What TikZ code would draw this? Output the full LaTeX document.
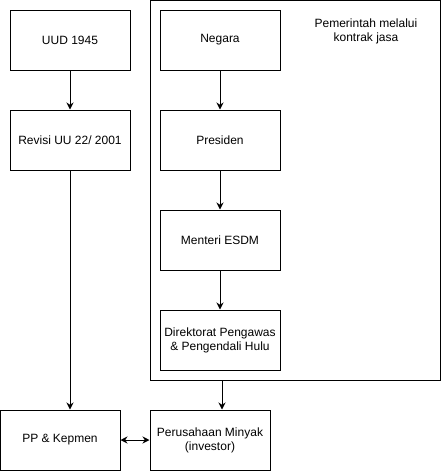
\documentclass[tikz,border=0pt]{standalone}
\usepackage{fontspec}
\setmainfont{Liberation Sans}
\usetikzlibrary{arrows.meta}

\begin{document}
\begin{tikzpicture}[x=1pt,y=-1pt,line width=1pt,
  kotak/.style={draw,minimum width=120pt,minimum height=60pt,inner sep=0pt,align=center,
    font=\fontsize{12}{14}\selectfont},
  panah/.style={-{Stealth[length=7pt,width=7pt]}},
  duapanah/.style={{Stealth[length=7pt,width=7pt]}-{Stealth[length=7pt,width=7pt]}}]
\useasboundingbox (0,0) rectangle (441,472);
\draw (295,190) node[draw,minimum width=290pt,minimum height=380pt,inner sep=0pt] (pemerintah) {};
\draw (366,31) node[align=center,font=\fontsize{12}{14}\selectfont] (label) {Pemerintah melalui\\kontrak jasa};
\draw (70,40) node[kotak] (uud) {UUD 1945};
\draw (70,140) node[kotak] (revisi) {Revisi UU 22/ 2001};
\draw (220,40) node[kotak] (negara) {Negara};
\draw (220,140) node[kotak] (presiden) {Presiden};
\draw (220,240) node[kotak] (menteri) {Menteri ESDM};
\draw (220,340) node[kotak] (dirjen) {Direktorat Pengawas\\\& Pengendali Hulu};
\draw (60,440) node[kotak] (pp) {PP \& Kepmen};
\draw (210,440) node[kotak] (minyak) {Perusahaan Minyak\\(investor)};
\coordinate (keluar) at (222,380);
\draw[panah] (uud) -- (revisi);
\draw[panah] (negara) -- (presiden);
\draw[panah] (presiden) -- (menteri);
\draw[panah] (menteri) -- (dirjen);
\draw[panah] (revisi.south) -- (revisi.south |- pp.north);
\draw[panah] (keluar) -- (keluar |- minyak.north);
\draw[duapanah] (pp) -- (minyak);
\end{tikzpicture}
\end{document}
